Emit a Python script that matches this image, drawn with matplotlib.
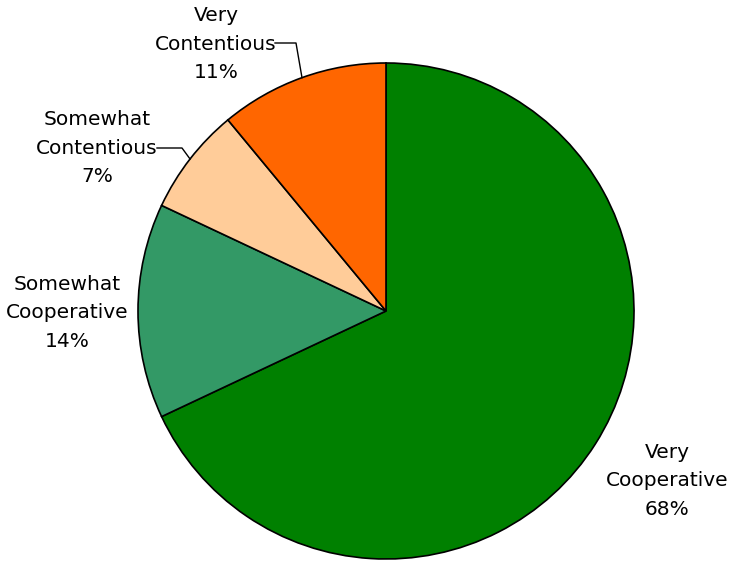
import matplotlib
matplotlib.use('Agg')
import matplotlib.pyplot as plt
import numpy as np

categories = ['Very\nCooperative', 'Somewhat\nCooperative', 'Somewhat\nContentious', 'Very\nContentious']
shares = [68, 14, 7, 11]
colors = ['#008000', '#339966', '#FFCC99', '#FF6600']

W, H = 734, 564
fig = plt.figure(figsize=(W / 100, H / 100), dpi=100)
ax = fig.add_axes([0, 0, 1, 1])

cx, cy, r = 386, H - 311, 248
wedges, _ = ax.pie(shares, colors=colors, startangle=90, counterclock=False,
                   center=(cx, cy), radius=r, frame=True,
                   wedgeprops=dict(edgecolor='black', linewidth=1.2))
ax.set_xlim(0, W)
ax.set_ylim(0, H)
ax.set_aspect('equal')
ax.axis('off')

# label centres (pixels from top) and optional leader elbows
label_pos = [(667, 481), (67, 313), (97, 148), (216, 44)]
leaders = [None, None, [(157, 148), (182, 148)], [(275, 43), (296, 43)]]

for w, cat, val, (lx, ly), ld in zip(wedges, categories, shares, label_pos, leaders):
    ax.text(lx, H - ly, '%s\n%d%%' % (cat, val), ha='center', va='center',
            fontsize=14.5, family='DejaVu Sans', linespacing=1.65)
    if ld is not None:
        mid = np.deg2rad((w.theta1 + w.theta2) / 2)
        ex, ey = cx + r * np.cos(mid), cy + r * np.sin(mid)
        xs = [p[0] for p in ld] + [ex]
        ys = [H - p[1] for p in ld] + [ey]
        ax.plot(xs, ys, color='black', linewidth=1)

fig.savefig('out.png', dpi=100)
